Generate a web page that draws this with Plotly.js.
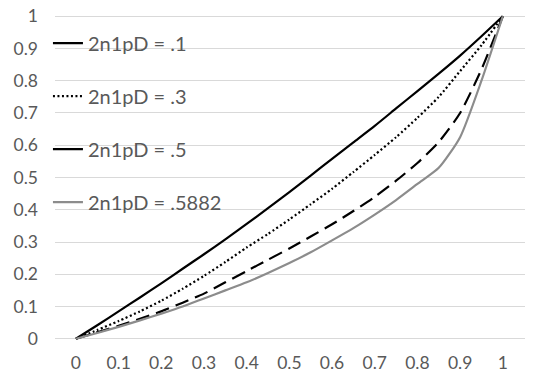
<!DOCTYPE html>
<html lang="en">
<head>
    <meta charset="UTF-8">
    <title>2n1pD curves</title>
    <script src="https://cdn.jsdelivr.net/npm/plotly.js-dist-min"></script>
    <style>
        body { margin: 0; background: #fff; }
        #chart { width: 536px; height: 375px; }
    </style>
</head>
<body>
<div id="chart"></div>
<script>
// values
const xs = [0, 0.05, 0.1, 0.15, 0.2, 0.25, 0.3, 0.35, 0.4, 0.45, 0.5,
            0.55, 0.6, 0.65, 0.7, 0.75, 0.8, 0.85, 0.9, 0.95, 1];
const pD01 = [0, 0.042, 0.085, 0.128, 0.172, 0.217, 0.262, 0.308, 0.356, 0.405, 0.455,
              0.506, 0.558, 0.609, 0.66, 0.714, 0.768, 0.822, 0.878, 0.938, 1];
const pD03 = [0, 0.027, 0.055, 0.085, 0.118, 0.155, 0.195, 0.238, 0.283, 0.325, 0.37,
              0.417, 0.465, 0.517, 0.57, 0.625, 0.685, 0.75, 0.83, 0.91, 1];
const pD05 = [0, 0.02, 0.04, 0.062, 0.085, 0.112, 0.14, 0.175, 0.21, 0.245, 0.28,
              0.317, 0.355, 0.396, 0.44, 0.49, 0.545, 0.61, 0.70, 0.835, 1];
const pD5882 = [0, 0.018, 0.037, 0.057, 0.078, 0.1, 0.125, 0.15, 0.175, 0.204, 0.235,
                0.268, 0.305, 0.343, 0.385, 0.43, 0.48, 0.53, 0.625, 0.8, 1];
const names = ['2n1pD = .1', '2n1pD = .3', '2n1pD = .5', '2n1pD = .5882'];

const textColor = '#595959';
const gridColor = '#d9d9d9';

function line(y, name, color, dash, group) {
    return {
        x: xs, y: y, name: name, type: 'scatter', mode: 'lines',
        legendgroup: group,
        line: { color: color, width: 2.2, dash: dash, shape: 'spline', smoothing: 0.6 }
    };
}

const traces = [
    line(pD01, names[0], '#000000', 'solid', 'a'),
    line(pD03, names[1], '#000000', '2px,2.5px', 'b'),
    Object.assign(line(pD05, names[2], '#000000', '14px,7px', 'c'), { showlegend: false }),
    // the legend key of the .5 series is drawn solid in the source chart
    { x: [null], y: [null], name: names[2], type: 'scatter', mode: 'lines', legendgroup: 'c',
      line: { color: '#000000', width: 2.2 } },
    line(pD5882, names[3], '#8c8c8c', 'solid', 'd')
];

const layout = {
    width: 536, height: 375,
    margin: { l: 55, r: 11, t: 13, b: 33 },
    paper_bgcolor: '#fff', plot_bgcolor: '#fff',
    font: { family: 'Lato, "Open Sans", sans-serif', color: textColor, size: 17.5 },
    showlegend: true,
    legend: {
        x: -0.015, y: 0.968, xanchor: 'left', yanchor: 'top',
        bgcolor: 'rgba(0,0,0,0)', font: { size: 20, color: textColor },
        tracegroupgap: 24, itemwidth: 30
    },
    xaxis: {
        range: [-0.049, 1.052], tickvals: [0, 0.1, 0.2, 0.3, 0.4, 0.5, 0.6, 0.7, 0.8, 0.9, 1],
        showgrid: false, zeroline: false, showline: false, ticks: '',
        ticklabelstandoff: 8
    },
    yaxis: {
        range: [-0.01, 1.01], dtick: 0.1, tick0: 0,
        showgrid: true, gridcolor: gridColor, gridwidth: 1,
        zeroline: false, showline: false, ticks: '',
        ticklabelstandoff: 16
    }
};

Plotly.newPlot('chart', traces, layout, { displayModeBar: false, staticPlot: true });
</script>
</body>
</html>
